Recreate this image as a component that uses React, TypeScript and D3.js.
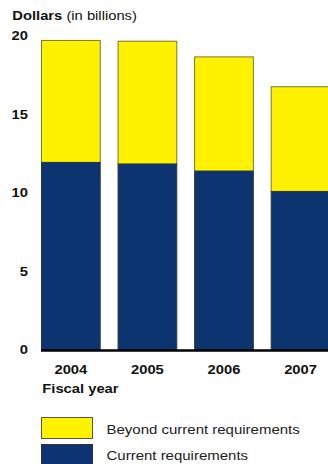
import React from "react";
import * as d3 from "d3";

const years = ["2004", "2005", "2006", "2007"];
const currentReq = [11.95, 11.85, 11.4, 10.1];
const beyondReq = [7.8, 7.85, 7.3, 6.7];
const yTicks = [0, 5, 10, 15, 20];

const W = 328;
const H = 464;
const YELLOW = "#fff200";
const NAVY = "#0b3470";
const FONT = "'Liberation Sans', Arial, Helvetica, sans-serif";
const SX = 1.23;

export default function App() {
  const x = d3.scaleBand<string>().domain(years).range([41, 330.4]).paddingInner(0.22).paddingOuter(0);
  const y = d3.scaleLinear().domain([0, 20]).range([350, 36]);
  const stacked = years.map((yr, i) => ({
    yr,
    c: currentReq[i],
    b: beyondReq[i],
  }));
  return (
    <svg width={W} height={H} style={{ position: "absolute", left: 0, top: 0, background: "#fff" }} fontFamily={FONT}>
      <g transform={`translate(12.3,20.3) scale(${SX},1)`}>
        <text x={0} y={0} fontSize={12} fill="#111">
          <tspan fontWeight="bold">Dollars</tspan>
          <tspan> (in billions)</tspan>
        </text>
      </g>
      {yTicks.map((t) => (
        <g key={t} transform={`translate(28,${y(t) + 4.3}) scale(${SX},1)`}>
          <text x={0} y={0} textAnchor="end" fontSize={12} fontWeight="bold" fill="#111">
            {t}
          </text>
        </g>
      ))}
      {stacked.map((d) => (
        <g key={d.yr}>
          <rect
            x={x(d.yr)! + 0.5}
            y={y(d.c + d.b) + 0.5}
            width={x.bandwidth() - 1}
            height={y(d.c) - y(d.c + d.b)}
            fill={YELLOW}
            stroke="#7d7430"
            strokeWidth={1}
          />
          <rect
            x={x(d.yr)! + 0.5}
            y={y(d.c)}
            width={x.bandwidth() - 1}
            height={y(0) - y(d.c)}
            fill={NAVY}
            stroke="#2a3a40"
            strokeWidth={1}
          />
          <g transform={`translate(${x(d.yr)! + x.bandwidth() / 2},374.3) scale(${SX},1)`}>
            <text x={0} y={0} textAnchor="middle" fontSize={12} fontWeight="bold" fill="#111">
              {d.yr}
            </text>
          </g>
        </g>
      ))}
      <line x1={41} x2={W} y1={y(0) + 0.5} y2={y(0) + 0.5} stroke="#000" strokeWidth={2.5} />
      <g transform={`translate(42.3,393) scale(${SX},1)`}>
        <text x={0} y={0} fontSize={12} fontWeight="bold" fill="#111">Fiscal year</text>
      </g>
      <rect x={41.5} y={417.5} width={51} height={21} fill={YELLOW} stroke="#555" strokeWidth={1} />
      <g transform={`translate(106.5,433.5) scale(${SX},1)`}>
        <text x={0} y={0} fontSize={12.2} fill="#222">Beyond current requirements</text>
      </g>
      <rect x={41.5} y={444.5} width={51} height={22} fill={NAVY} stroke="#333" strokeWidth={1} />
      <g transform={`translate(106.5,460) scale(${SX},1)`}>
        <text x={0} y={0} fontSize={12.2} fill="#222">Current requirements</text>
      </g>
    </svg>
  );
}
